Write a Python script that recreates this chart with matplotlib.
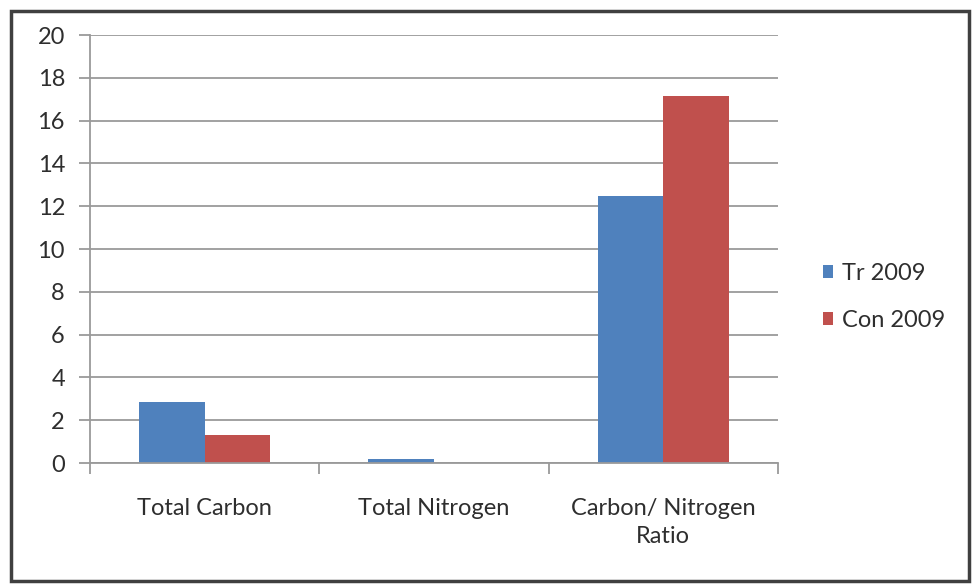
import numpy as np
import matplotlib as mpl
import matplotlib.pyplot as plt
from matplotlib.patches import Rectangle

categories = ['Total Carbon', 'Total Nitrogen', 'Carbon/ Nitrogen\nRatio']
series_names = ['Tr 2009', 'Con 2009']
tr_2009 = [2.87, 0.17, 12.5]
con_2009 = [1.32, 0.01, 17.15]
yticks = list(range(0, 21, 2))

mpl.rcParams['font.family'] = ['Lato', 'DejaVu Sans']
mpl.rcParams['font.size'] = 17

fig = plt.figure(figsize=(9.75, 5.85), dpi=100)
ax = fig.add_axes([0.0923, 0.2085, 0.7057, 0.7315])

x = np.arange(len(categories))
w = 1 / 3.5
ax.bar(x - w / 2, tr_2009, w, color='#4F81BD', label=series_names[0])
ax.bar(x + w / 2, con_2009, w, color='#C0504D', label=series_names[1])

ax.set_xlim(-0.5, len(categories) - 0.5)
ax.set_ylim(0, 20)
ax.set_yticks(yticks)
ax.yaxis.grid(True, color='#9a9a9a', linewidth=1.3)
ax.set_axisbelow(True)

# category labels centred, boundary ticks as minor ticks
ax.set_xticks(x)
ax.set_xticklabels(categories, color='#2e2e2e', linespacing=1.45)
ax.set_xticks(np.arange(-0.5, len(categories)), minor=True)
ax.tick_params(axis='x', which='major', length=0, pad=25)
ax.tick_params(axis='x', which='minor', length=8, color='#9a9a9a', width=1.3)
ax.tick_params(axis='y', length=8, color='#9a9a9a', width=1.3, pad=10,
               labelcolor='#2e2e2e')

for s in ['top', 'right']:
    ax.spines[s].set_visible(False)
for s in ['left', 'bottom']:
    ax.spines[s].set_color('#9a9a9a')
    ax.spines[s].set_linewidth(1.3)

fig.legend(loc='center left', bbox_to_anchor=(0.822, 0.492), frameon=False,
           handlelength=0.45, handleheight=0.45, handletextpad=0.35,
           labelspacing=1.1, fontsize=17, labelcolor='#2e2e2e')

fig.patches.append(Rectangle((0.011, 0.006), 0.983, 0.975, transform=fig.transFigure,
                             fill=False, edgecolor='#404040', linewidth=2.5))

plt.savefig('out.png', dpi=100)
